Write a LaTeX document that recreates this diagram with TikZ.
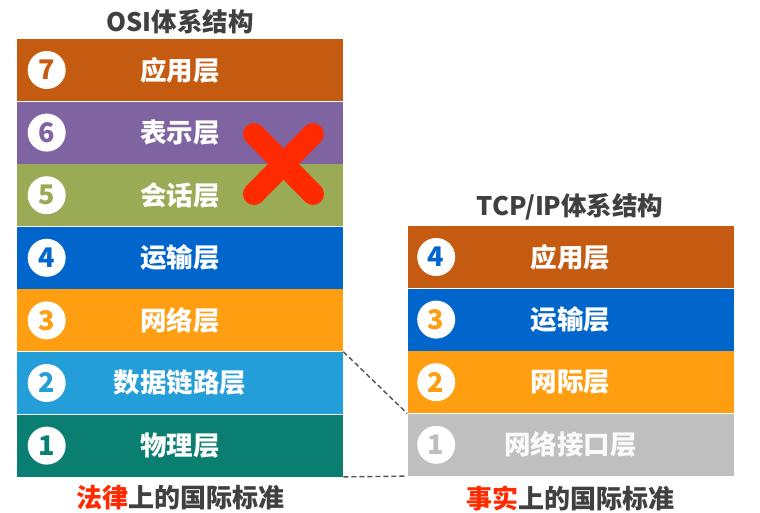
\documentclass[tikz,border=0pt]{standalone}
\usepackage{fontspec}
\setmainfont{Noto Sans CJK SC}
\usetikzlibrary{positioning}

\definecolor{appbrown}{HTML}{C55A11}
\definecolor{prespurple}{HTML}{8064A2}
\definecolor{sessolive}{HTML}{9BAA55}
\definecolor{transblue}{HTML}{0066CC}
\definecolor{netorange}{HTML}{FF9E10}
\definecolor{linkblue}{HTML}{239ED8}
\definecolor{phyteal}{HTML}{0B7E72}
\definecolor{ifgray}{HTML}{BFBFBF}
\definecolor{titlegray}{HTML}{404040}
\definecolor{crossred}{HTML}{FF2A00}

\tikzset{
  every path/.style={semithick},
  layer/.style={minimum width=326pt, minimum height=62pt, inner sep=0pt,
    text=white, font=\fontsize{26.5}{30}\selectfont\bfseries},
  num/.style={circle, fill=white, minimum size=38pt, inner sep=0pt,
    font=\fontsize{27}{30}\selectfont\bfseries},
  title/.style={text=titlegray, font=\fontsize{25.5}{30}\selectfont\bfseries},
  std/.style={text=titlegray, font=\fontsize{26}{30}\selectfont\bfseries},
}

\begin{document}
\begin{tikzpicture}[x=1pt, y=-1pt]
    \useasboundingbox (0,0) rectangle (760,513);

    % OSI stack
    \node[title] (osititle) at (180,22) {OSI体系结构};
    \node[layer, fill=appbrown] (osi7) at (180,70) {应用层};
    \node[layer, fill=prespurple, below=0pt of osi7] (osi6) {表示层};
    \node[layer, fill=sessolive, below=0pt of osi6] (osi5) {会话层};
    \node[layer, fill=transblue, below=0pt of osi5] (osi4) {运输层};
    \node[layer, fill=netorange, below=0pt of osi4] (osi3) {网络层};
    \node[layer, fill=linkblue, below=0pt of osi3] (osi2) {数据链路层};
    \node[layer, fill=phyteal, below=0pt of osi2] (osi1) {物理层};

    \node[num, text=appbrown] (o7) at ([xshift=30pt]osi7.west) {7};
    \node[num, text=prespurple] (o6) at ([xshift=30pt]osi6.west) {6};
    \node[num, text=sessolive] (o5) at ([xshift=30pt]osi5.west) {5};
    \node[num, text=transblue] (o4) at ([xshift=30pt]osi4.west) {4};
    \node[num, text=netorange] (o3) at ([xshift=30pt]osi3.west) {3};
    \node[num, text=linkblue] (o2) at ([xshift=30pt]osi2.west) {2};
    \node[num, text=phyteal] (o1) at ([xshift=30pt]osi1.west) {1};

    \node[std] (osistd) at (180,498) {\textcolor{crossred}{法律}上的国际标准};

    % cross over layers 6 and 5
    \draw[crossred, line width=22pt, line cap=round] (254,134) -- (313,194);
    \draw[crossred, line width=22pt, line cap=round] (313,134) -- (254,194);

    % TCP/IP stack
    \node[title] (tcptitle) at (570,207) {TCP/IP体系结构};
    \node[layer, fill=appbrown] (tcp4) at (570.5,257) {应用层};
    \node[layer, fill=transblue, below=0pt of tcp4] (tcp3) {运输层};
    \node[layer, fill=netorange, below=0pt of tcp3] (tcp2) {网际层};
    \node[layer, fill=ifgray, text=white!92!ifgray, below=0pt of tcp2] (tcp1) {网络接口层};

    \node[num, text=transblue] (t4) at ([xshift=29pt]tcp4.west) {4};
    \node[num, text=netorange] (t3) at ([xshift=29pt]tcp3.west) {3};
    \node[num, text=netorange] (t2) at ([xshift=29pt]tcp2.west) {2};
    \node[num, text=ifgray] (t1) at ([xshift=29pt]tcp1.west) {1};

    \node[std] (tcpstd) at (570,498) {\textcolor{crossred}{事实}上的国际标准};

    % correspondence
    \draw[line width=1.4pt, dash pattern=on 5pt off 3pt, titlegray!90] (osi3.south east) -- (tcp1.north west);
    \draw[line width=1.4pt, dash pattern=on 5pt off 3pt, titlegray!90] (osi1.south east) -- (tcp1.south west);
\end{tikzpicture}
\end{document}
